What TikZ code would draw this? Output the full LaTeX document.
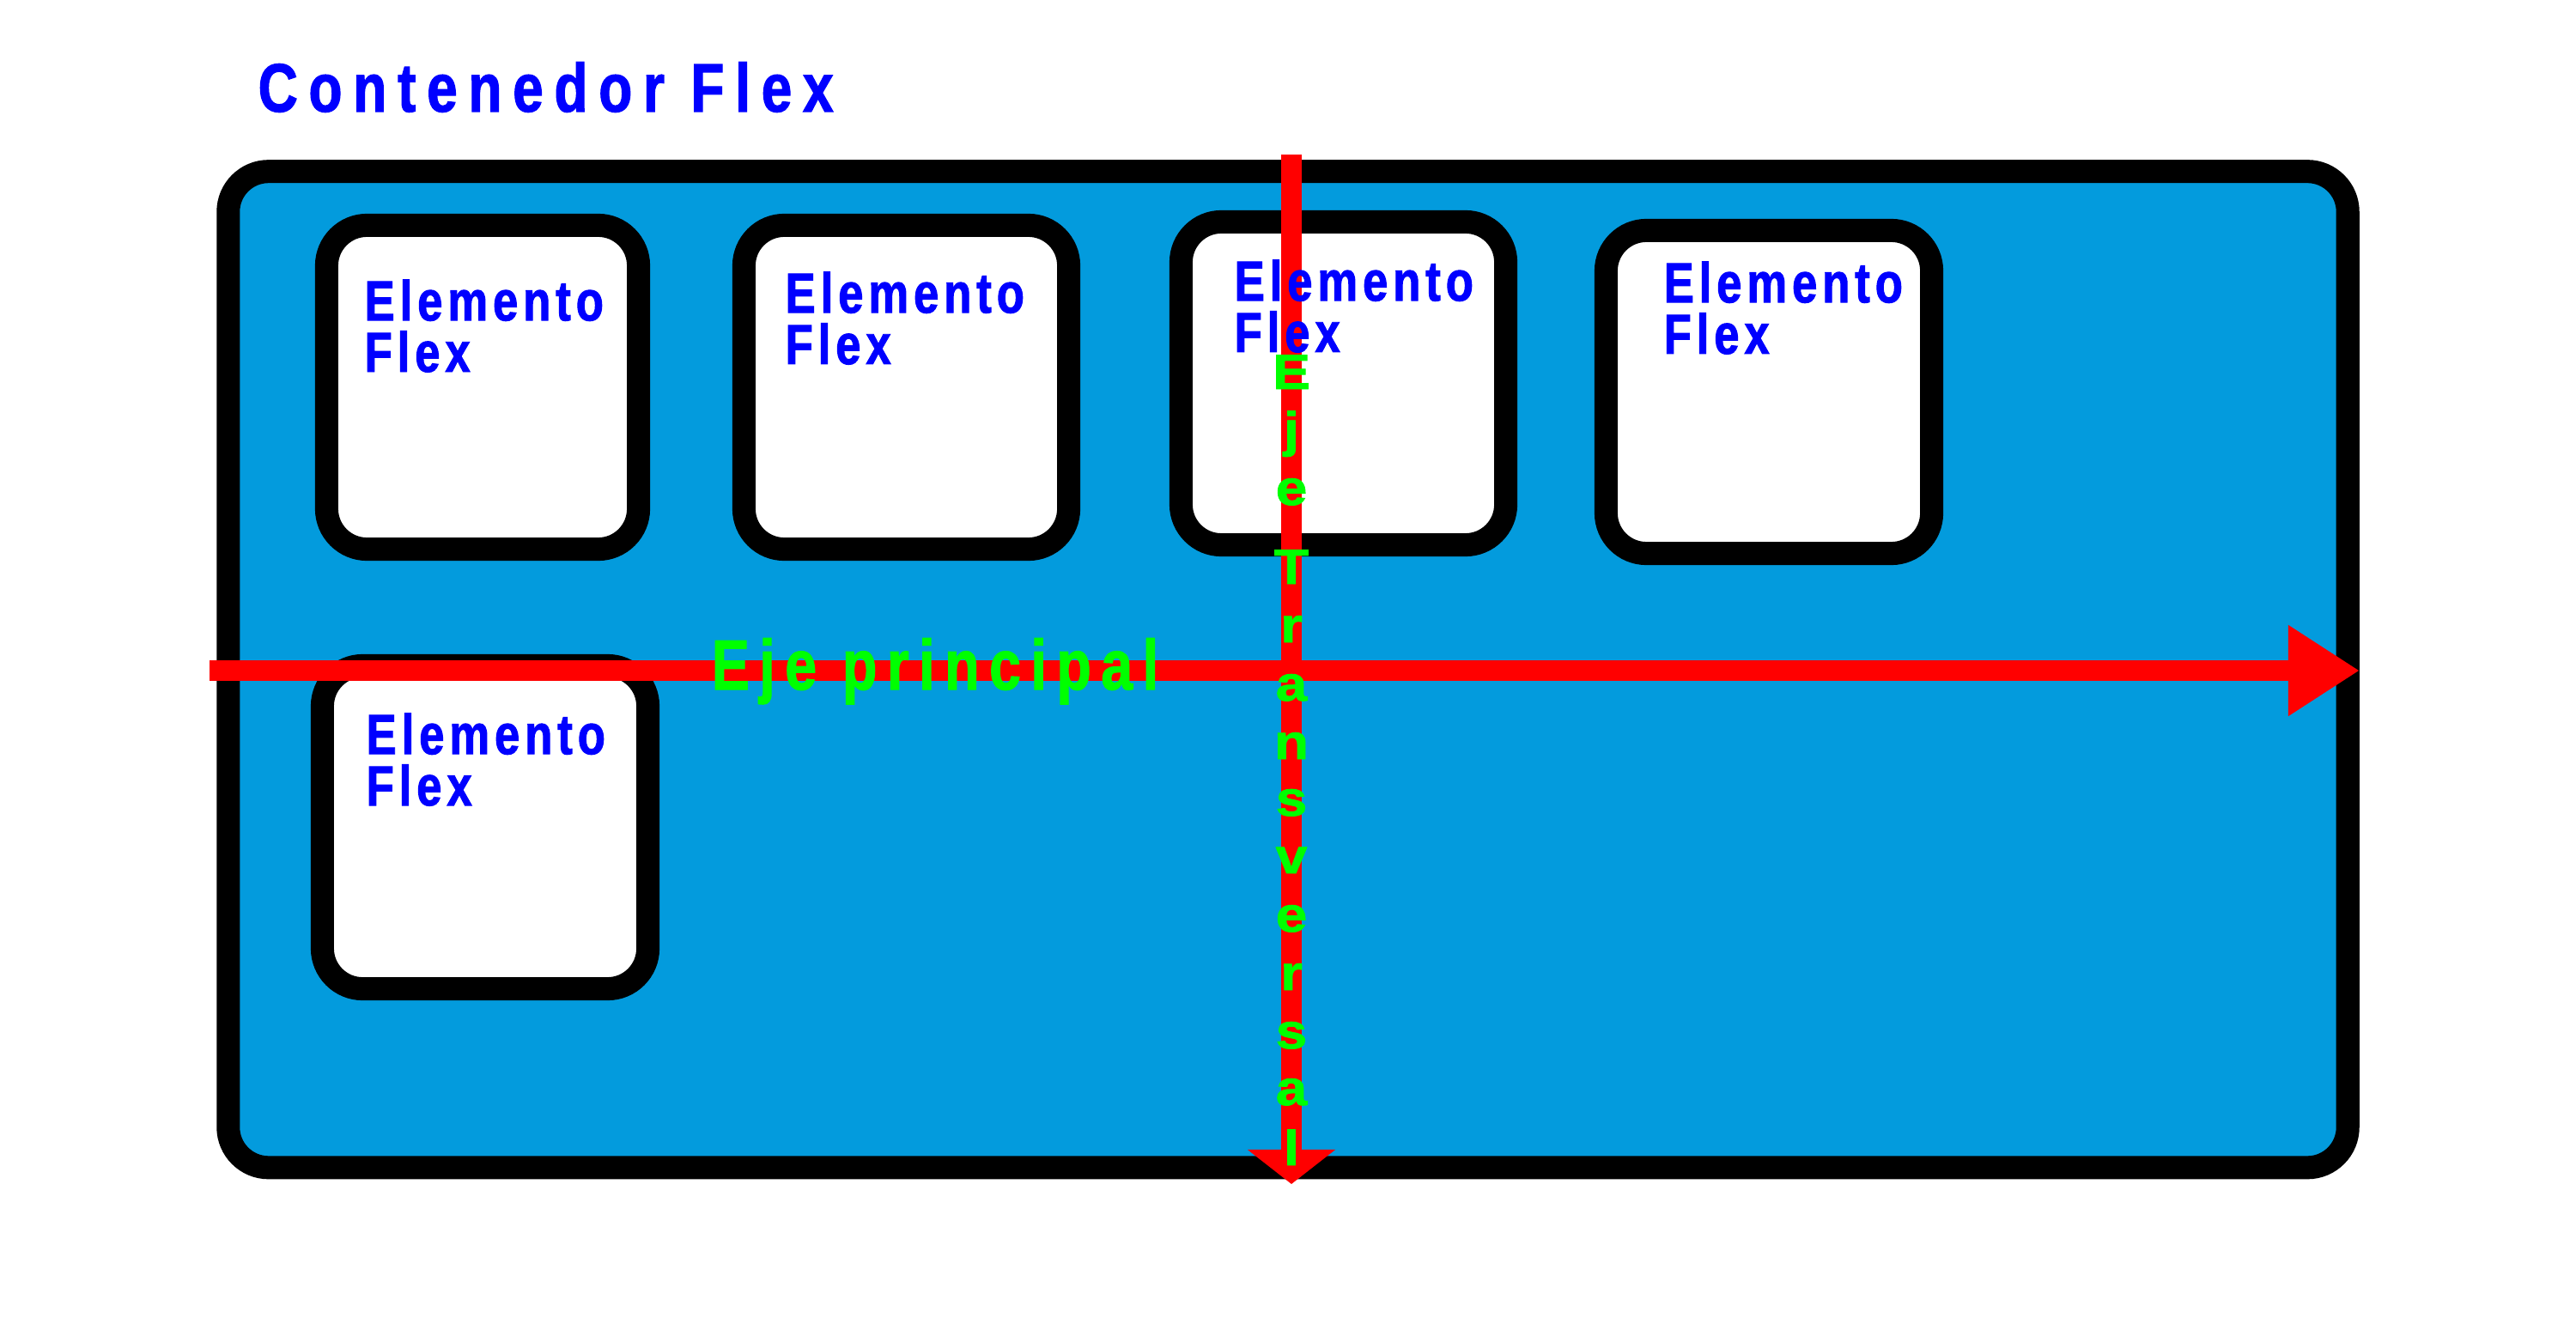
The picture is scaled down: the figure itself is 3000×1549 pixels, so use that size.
\documentclass[tikz,border=0pt]{standalone}
\usepackage{fontspec}
\setmainfont{Liberation Sans}
\newfontfamily\titlefont{Liberation Sans}[FakeStretch=0.8,FakeBold=1.5,LetterSpace=16]
\newfontfamily\itemfont{Liberation Sans}[FakeStretch=0.8,FakeBold=1.5,LetterSpace=9]
\newfontfamily\axisfont{Liberation Sans}[FakeStretch=0.8,FakeBold=1.5,LetterSpace=14]
\newfontfamily\crossfont{Liberation Sans}[FakeStretch=1.15,FakeBold=1.5]
\usetikzlibrary{arrows.meta}
\definecolor{flexfill}{RGB}{3,155,221}
\definecolor{flexblue}{RGB}{0,0,255}
\definecolor{axisred}{RGB}{255,0,0}
\definecolor{axisgreen}{RGB}{0,255,0}

\begin{document}
\begin{tikzpicture}[x=0.01cm,y=-0.01cm]
\tikzstyle{container} = [draw=black, fill=flexfill, line width=0.27cm,
    rounded corners=0.47cm, inner sep=0pt]
\tikzstyle{item} = [draw=black, fill=white, line width=0.27cm,
    rounded corners=0.47cm, inner sep=0pt]
\tikzstyle{itemtext} = [text=flexblue, inner sep=0pt, align=left,
    font=\itemfont\bfseries\fontsize{18.7pt}{17pt}\selectfont]
\tikzstyle{title} = [text=flexblue, inner sep=0pt,
    font=\titlefont\bfseries\fontsize{22.7pt}{27pt}\selectfont]
\tikzstyle{axis} = [draw=axisred, line width=0.24cm]
\tikzstyle{axislabel} = [text=axisgreen, inner sep=0pt,
    font=\axisfont\bfseries\fontsize{23.5pt}{28pt}\selectfont]
\tikzstyle{crossletter} = [text=axisgreen, inner sep=0pt,
    font=\crossfont\bfseries\fontsize{16.3pt}{19pt}\selectfont]

\useasboundingbox (0,0) rectangle (3000,1549);

\node[title, anchor=base west] (titulo) at (300,130) {Contenedor Flex};

\node[container, minimum width=24.67cm, minimum height=11.595cm] (contenedor) at (1500,779.75) {};

\foreach \n/\cx/\cy/\w/\h in {1/562/451/3.63/3.77, 2/1055.5/451/3.78/3.77,
    3/1564.5/446.5/3.78/3.76, 4/2060/456.5/3.79/3.76, 5/565/963.5/3.79/3.76}
  \node[item, minimum width=\w cm, minimum height=\h cm] (item\n) at (\cx,\cy) {};

\coordinate (mainstart) at (244,781);
\coordinate (mainend) at (2748,781);
\coordinate (crossstart) at (1504,180);
\coordinate (crossend) at (1504,1379);

\draw[axis, -{Triangle[length=0.83cm,width=1cm]}] (mainstart) -- (mainend);
\draw[axis, -{Triangle[length=0.4cm,width=1cm]}] (crossstart) -- (crossend);

\foreach \n/\tx/\ty in {1/424/433, 2/914/424, 3/1437/410, 4/1937/412, 5/426/938}
  \node[itemtext, anchor=base west] (label\n) at (\tx,\ty) {Elemento\\Flex};

\node[axislabel, anchor=base west] (principal) at (828,803) {Eje principal};

\foreach \ch/\yy [count=\i] in {E/453, j/520, e/588, T/680, r/748, a/816, n/884,
    s/950, v/1017, e/1085, r/1153, s/1221, a/1287, l/1357}
  \node[crossletter, anchor=base] (cross\i) at (1504,\yy) {\ch};

\end{tikzpicture}
\end{document}
